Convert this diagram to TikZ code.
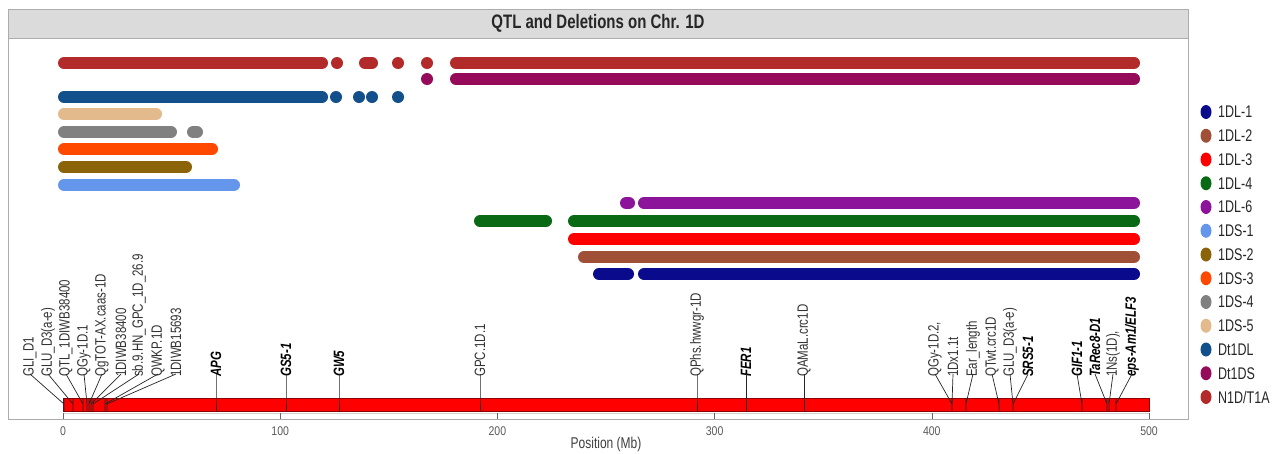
\documentclass[tikz,border=0pt]{standalone}
\usepackage{fontspec}
\setmainfont{Liberation Sans}
\usepackage{graphicx}
\usepackage{tikz}

\definecolor{cNT}{RGB}{178,42,42}
\definecolor{cDtS}{RGB}{150,10,90}
\definecolor{cDtL}{RGB}{18,80,140}
\definecolor{cSfive}{RGB}{226,186,140}
\definecolor{cSfour}{RGB}{128,128,128}
\definecolor{cSthree}{RGB}{255,72,0}
\definecolor{cStwo}{RGB}{139,100,10}
\definecolor{cSone}{RGB}{100,150,235}
\definecolor{cLsix}{RGB}{140,20,155}
\definecolor{cLfour}{RGB}{10,105,20}
\definecolor{cLthree}{RGB}{255,0,0}
\definecolor{cLtwo}{RGB}{160,80,55}
\definecolor{cLone}{RGB}{10,10,140}

\newcommand{\tall}[2][1.3]{\scalebox{1}[#1]{#2}}

\tikzset{
  track/.style={line width=12pt, line cap=round, draw=#1},
  lead/.style={draw=black!85, line width=0.7pt},
  qtl/.style={rotate=90, anchor=west, inner sep=0pt, text=black!80, font=\fontsize{11.5}{12}\selectfont},
  gene/.style={qtl, text=black, font=\fontsize{11.5}{12}\selectfont\bfseries\itshape},
  legtxt/.style={anchor=west, xshift=12pt, inner sep=0pt, text=black!85, font=\fontsize{12.5}{13}\selectfont},
  ticklab/.style={inner sep=0pt, text=black!65, font=\fontsize{10.5}{11}\selectfont},
}

\begin{document}
\begin{tikzpicture}[x=1pt,y=1pt,yscale=-1]
\useasboundingbox (0,0) rectangle (1279,453);
% panel and strip
\draw [draw=gray!65, fill=white] (8,38) rectangle (1188,419);
\draw [draw=gray!65, fill=gray!28] (8,9) rectangle (1188,38);
\node [font=\fontsize{15}{16}\selectfont\bfseries, text=black!85] (title) at (598,23.5) {\tall{QTL and Deletions on Chr. 1D}};

% deletion tracks
\draw [track=cNT] (64,63) -- (322,63);
\fill [cNT] (337,63) circle (6pt);
\draw [track=cNT] (365,63) -- (372,63);
\fill [cNT] (398,63) circle (6pt);
\fill [cNT] (427,63) circle (6pt);
\draw [track=cNT] (456,63) -- (1134,63);
\fill [cDtS] (427,79) circle (6pt);
\draw [track=cDtS] (456,79) -- (1134,79);
\draw [track=cDtL] (64,97) -- (322,97);
\fill [cDtL] (336,97) circle (6pt);
\fill [cDtL] (359,97) circle (6pt);
\fill [cDtL] (372,97) circle (6pt);
\fill [cDtL] (398,97) circle (6pt);
\draw [track=cSfive] (64,114) -- (156,114);
\draw [track=cSfour] (64,132) -- (171,132);
\draw [track=cSfour] (193,132) -- (197,132);
\draw [track=cSthree] (64,149) -- (212,149);
\draw [track=cStwo] (64,167) -- (186,167);
\draw [track=cSone] (64,185) -- (234,185);
\draw [track=cLsix] (626,203) -- (629,203);
\draw [track=cLsix] (644,203) -- (1134,203);
\draw [track=cLfour] (480,221) -- (546,221);
\draw [track=cLfour] (574,221) -- (1134,221);
\draw [track=cLthree] (574,239) -- (1134,239);
\draw [track=cLtwo] (584,257) -- (1134,257);
\draw [track=cLone] (599,274) -- (628,274);
\draw [track=cLone] (644,274) -- (1134,274);

% chromosome bar and axis
\draw [fill=red, draw=red!55!black, line width=0.6pt] (63,398) rectangle (1149,411);
\draw [draw=gray!35] (63,413) -- (1149,413);
\draw [draw=black!60] (63,413) -- (63,419) (280.2,413) -- (280.2,419) (497.4,413) -- (497.4,419)
      (714.6,413) -- (714.6,419) (931.8,413) -- (931.8,419) (1149,413) -- (1149,419);
\node [ticklab] (tk0) at (63,431) {\tall[1.2]{0}};
\node [ticklab] (tk100) at (280.2,431) {\tall[1.2]{100}};
\node [ticklab] (tk200) at (497.4,431) {\tall[1.2]{200}};
\node [ticklab] (tk300) at (714.6,431) {\tall[1.2]{300}};
\node [ticklab] (tk400) at (931.8,431) {\tall[1.2]{400}};
\node [ticklab] (tk500) at (1149,431) {\tall[1.2]{500}};
\node [ticklab, text=black!75, font=\fontsize{12}{13}\selectfont] (xlab) at (606,444) {\tall{Position (Mb)}};

% marker positions on the bar
\coordinate (mGLI) at (64,398);
\coordinate (mGLUa) at (73,398);
\coordinate (mQTL) at (83,398);
\coordinate (mQGya) at (87,398);
\coordinate (mTOT) at (89,398);
\coordinate (mIWBa) at (91,398);
\coordinate (mSB) at (93,398);
\coordinate (mWKP) at (105,398);
\coordinate (mIWBb) at (107,398);
\coordinate (mAPG) at (216,398);
\coordinate (mGS) at (286,398);
\coordinate (mGW) at (339,398);
\coordinate (mGPC) at (480,398);
\coordinate (mPhs) at (697,398);
\coordinate (mFER) at (746,398);
\coordinate (mAMaL) at (804,398);
\coordinate (mQGyb) at (952,398);
\coordinate (mEar) at (966,398);
\coordinate (mTwt) at (999,398);
\coordinate (mGLUb) at (1013,398);
\coordinate (mGIF) at (1082,398);
\coordinate (mRec) at (1107,398);
\coordinate (mNs) at (1109,398);
\coordinate (mEps) at (1116,398);

% labels
\node [qtl] (gli) at (30,377) {\tall{GLI\_D1}};
\node [qtl] (glua) at (48,377) {\tall{GLU\_D3(a-e)}};
\node [qtl] (qtlb) at (66,377) {\tall{QTL\_1DIWB38400}};
\node [qtl] (qgya) at (84,377) {\tall{QGy-1D.1}};
\node [qtl] (tot) at (102,377) {\tall{QgTOT-AX.caas-1D}};
\node [qtl] (iwba) at (121,377) {\tall{1DIWB38400}};
\node [qtl] (sb) at (139,377) {\tall{sb.9.HN\_GPC\_1D\_26.9}};
\node [qtl] (wkp) at (158,377) {\tall{QWKP.1D}};
\node [qtl] (iwbb) at (176,377) {\tall{1DIWB15693}};
\node [gene] (apg) at (216,377) {\tall{APG}};
\node [gene] (gs) at (286,377) {\tall{GS5-1}};
\node [gene] (gw) at (339,377) {\tall{GW5}};
\node [qtl] (gpc) at (480,377) {\tall{GPC.1D.1}};
\node [qtl] (phs) at (697,377) {\tall{QPhs.hwwgr-1D}};
\node [gene] (fer) at (746,377) {\tall{FER1}};
\node [qtl] (amal) at (804,377) {\tall{QAMaL.crc1D}};
\node [qtl] (qgyb) at (935,377) {\tall{QGy-1D.2,}};
\node [qtl] (dx) at (953,377) {\tall{1Dx1.1t}};
\node [qtl] (ear) at (973,377) {\tall{Ear\_length}};
\node [qtl] (twt) at (992,377) {\tall{QTwt.crc1D}};
\node [qtl] (glub) at (1010,377) {\tall{GLU\_D3(a-e)}};
\node [gene] (srs) at (1028,377) {\tall{SRS5-1}};
\node [gene] (gif) at (1077,377) {\tall{GIF1-1}};
\node [gene] (rec) at (1095,377) {\tall{TaRec8-D1}};
\node [qtl] (ns) at (1113,377) {\tall{1Ns(1D),}};
\node [gene] (eps) at (1132,377) {\tall{eps-Am1/ELF3}};

% leader lines
\draw [lead] ([yshift=-3pt]gli.west) -- ([yshift=6pt]mGLI) -- (mGLI) -- ++(0,13);
\draw [lead] ([yshift=-3pt]glua.west) -- ([yshift=6pt]mGLUa) -- (mGLUa) -- ++(0,13);
\draw [lead] ([yshift=-3pt]qtlb.west) -- ([yshift=6pt]mQTL) -- (mQTL) -- ++(0,13);
\draw [lead] ([yshift=-3pt]qgya.west) -- ([yshift=6pt]mQGya) -- (mQGya) -- ++(0,13);
\draw [lead] ([yshift=-3pt]tot.west) -- ([yshift=6pt]mTOT) -- (mTOT) -- ++(0,13);
\draw [lead] ([yshift=-3pt]iwba.west) -- ([yshift=6pt]mIWBa) -- (mIWBa) -- ++(0,13);
\draw [lead] ([yshift=-3pt]sb.west) -- ([yshift=6pt]mSB) -- (mSB) -- ++(0,13);
\draw [lead] ([yshift=-3pt]wkp.west) -- ([yshift=6pt]mWKP) -- (mWKP) -- ++(0,13);
\draw [lead] ([yshift=-3pt]iwbb.west) -- ([yshift=6pt]mIWBb) -- (mIWBb) -- ++(0,13);
\draw [lead] ([yshift=-3pt]apg.west) -- (mAPG) -- ++(0,13);
\draw [lead] ([yshift=-3pt]gs.west) -- (mGS) -- ++(0,13);
\draw [lead] ([yshift=-3pt]gw.west) -- (mGW) -- ++(0,13);
\draw [lead] ([yshift=-3pt]gpc.west) -- (mGPC) -- ++(0,13);
\draw [lead] ([yshift=-3pt]phs.west) -- (mPhs) -- ++(0,13);
\draw [lead] ([yshift=-3pt]fer.west) -- (mFER) -- ++(0,13);
\draw [lead] ([yshift=-3pt]amal.west) -- (mAMaL) -- ++(0,13);
\draw [lead] ([yshift=-3pt]qgyb.west) -- ([yshift=6pt]mQGyb) -- (mQGyb) -- ++(0,13);
\draw [lead] ([yshift=-3pt]dx.west) -- ([yshift=6pt]mQGyb);
\draw [lead] ([yshift=-3pt]ear.west) -- ([yshift=6pt]mEar) -- (mEar) -- ++(0,13);
\draw [lead] ([yshift=-3pt]twt.west) -- ([yshift=6pt]mTwt) -- (mTwt) -- ++(0,13);
\draw [lead] ([yshift=-3pt]glub.west) -- ([yshift=6pt]mGLUb) -- (mGLUb) -- ++(0,13);
\draw [lead] ([yshift=-3pt]srs.west) -- ([yshift=6pt]mGLUb);
\draw [lead] ([yshift=-3pt]gif.west) -- ([yshift=6pt]mGIF) -- (mGIF) -- ++(0,13);
\draw [lead] ([yshift=-3pt]rec.west) -- ([yshift=6pt]mRec) -- (mRec) -- ++(0,13);
\draw [lead] ([yshift=-3pt]ns.west) -- ([yshift=6pt]mNs) -- (mNs) -- ++(0,13);
\draw [lead] ([yshift=-3pt]eps.west) -- ([yshift=6pt]mEps) -- (mEps) -- ++(0,13);

% legend
\fill [cLone] (1206,112) ellipse (5.5pt and 7pt) node [legtxt] (lgLone) {\tall[1.35]{1DL-1}};
\fill [cLtwo] (1206,135.75) ellipse (5.5pt and 7pt) node [legtxt] (lgLtwo) {\tall[1.35]{1DL-2}};
\fill [cLthree] (1206,159.5) ellipse (5.5pt and 7pt) node [legtxt] (lgLthree) {\tall[1.35]{1DL-3}};
\fill [cLfour] (1206,183.25) ellipse (5.5pt and 7pt) node [legtxt] (lgLfour) {\tall[1.35]{1DL-4}};
\fill [cLsix] (1206,207) ellipse (5.5pt and 7pt) node [legtxt] (lgLsix) {\tall[1.35]{1DL-6}};
\fill [cSone] (1206,230.75) ellipse (5.5pt and 7pt) node [legtxt] (lgSone) {\tall[1.35]{1DS-1}};
\fill [cStwo] (1206,254.5) ellipse (5.5pt and 7pt) node [legtxt] (lgStwo) {\tall[1.35]{1DS-2}};
\fill [cSthree] (1206,278.25) ellipse (5.5pt and 7pt) node [legtxt] (lgSthree) {\tall[1.35]{1DS-3}};
\fill [cSfour] (1206,302) ellipse (5.5pt and 7pt) node [legtxt] (lgSfour) {\tall[1.35]{1DS-4}};
\fill [cSfive] (1206,325.75) ellipse (5.5pt and 7pt) node [legtxt] (lgSfive) {\tall[1.35]{1DS-5}};
\fill [cDtL] (1206,349.5) ellipse (5.5pt and 7pt) node [legtxt] (lgDtL) {\tall[1.35]{Dt1DL}};
\fill [cDtS] (1206,373.25) ellipse (5.5pt and 7pt) node [legtxt] (lgDtS) {\tall[1.35]{Dt1DS}};
\fill [cNT] (1206,397) ellipse (5.5pt and 7pt) node [legtxt] (lgNT) {\tall[1.35]{N1D/T1A}};
\end{tikzpicture}
\end{document}
